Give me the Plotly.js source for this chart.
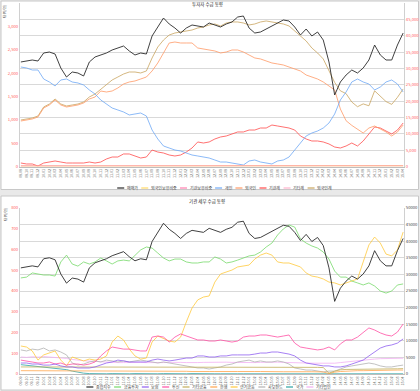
<!DOCTYPE html>
<html><head><meta charset="utf-8">
<script src="https://cdn.plot.ly/plotly-3.0.1.min.js"></script>
<style>html,body{margin:0;padding:0;background:#e9e9e9}#c{width:420px;height:391px}</style>
</head><body><div id="c"></div>
<script>
// ---------- data ----------
const months = ["09.09","09.10","09.11","09.12","10.01","10.02","10.03","10.04","10.05","10.06","10.07","10.08","10.09","10.10","10.11","10.12",
"11.01","11.02","11.03","11.04","11.05","11.06","11.07","11.08","11.09","11.10","11.11","11.12",
"12.01","12.02","12.03","12.04","12.05","12.06","12.07","12.08","12.09","12.10","12.11","12.12",
"13.01","13.02","13.03","13.04","13.05","13.06","13.07","13.08","13.09","13.10","13.11","13.12",
"14.01","14.02","14.03","14.04","14.05","14.06","14.07","14.08","14.09","14.10","14.11","14.12",
"15.01","15.02","15.03","15.04"];

const price = [31960,32260,32570,32260,34710,35010,34400,30120,27370,28900,28590,27680,31960,33490,34100,34710,35630,36240,36850,35320,34100,34710,34400,39910,42660,45410,43580,42350,40820,42350,43270,42970,42660,43880,43270,42660,43580,44190,45720,46020,42350,40820,41130,42050,42970,43880,44800,44500,42660,40210,42050,39910,41130,38680,31960,21870,25840,27980,29510,28590,30120,32570,37150,34100,32570,32570,37150,40820];

// top panel series (left axis)
const topForeignHold = [6,6,7,7,8,8,7,7,6,6,7,7,8,8,8,9,9,10,10,9,9,9,10,11,12,12,11,11,10,10,11,11,12,12,11,11,12,12,12,11,11,10,10,10,11,11,12,12,11,10,9,9,8,8,7,6,6,7,7,8,8,9,9,9,8,8,9,10];
const topInstHold = [14,14,15,15,16,16,15,15,14,14,14,15,15,16,16,17,17,18,18,17,17,17,18,19,20,20,19,19,18,18,19,19,20,20,19,19,20,20,20,19,19,18,18,18,19,19,20,20,19,18,17,17,16,16,15,14,14,15,15,16,16,17,17,17,16,16,17,18];
const topIndividual = [2130,2109,2066,2066,1873,1809,1724,1852,1873,1809,1788,1745,1638,1552,1424,1338,1252,1210,1167,1103,1124,1145,1081,781,589,439,396,353,332,289,246,225,203,182,139,96,96,75,54,32,118,139,96,75,54,118,139,203,353,525,653,717,760,824,931,1124,1424,1595,1809,1873,1809,1766,1638,1702,1809,1852,1766,1595];
const topForeign = [974,996,1017,1060,1252,1317,1424,1317,1274,1295,1317,1360,1445,1488,1616,1595,1616,1681,1766,1809,1831,1873,1916,2045,2216,2430,2644,2665,2644,2644,2644,2537,2516,2494,2473,2430,2451,2494,2494,2451,2387,2323,2302,2259,2216,2195,2173,2130,2088,2045,1959,1916,1873,1809,1724,1638,1230,980,880,800,717,824,867,803,739,653,739,888];
const topInstitution = [75,54,54,11,75,96,118,96,75,75,75,75,96,75,96,161,203,203,268,268,225,182,203,353,310,289,246,225,246,310,396,525,503,525,589,632,653,696,739,739,781,781,824,824,888,867,846,824,781,653,589,546,546,525,482,417,396,439,503,439,546,696,846,824,760,696,781,931];
const topOther = [9,8,8,9,10,10,9,9,8,8,9,9,10,10,11,11,12,12,11,11,10,10,11,12,13,13,12,12,11,11,12,12,13,13,12,12,13,13,13,12,12,11,11,11,12,12,13,13,12,11,10,10,9,9,8,8,8,9,9,10,10,11,11,11,10,10,11,12];
const topForeignSum = [996,1017,1038,1081,1274,1338,1445,1338,1295,1317,1338,1381,1488,1552,1659,1745,1852,1916,1980,2023,2023,2002,2045,2323,2558,2708,2815,2858,2880,2901,2922,2965,2987,3030,3051,3008,3072,3094,3094,3072,3030,3051,3094,3115,3094,3072,3051,3008,2901,2794,2687,2537,2430,2302,2050,1800,1620,1560,1380,1280,1340,1300,1620,1500,1390,1330,1480,1660];

// bottom panel series (left axis)
const finInvest = [463,467,487,482,477,477,472,540,573,530,520,540,530,540,559,545,530,545,549,545,573,598,612,607,583,559,545,554,554,540,535,535,540,540,564,554,535,540,549,559,569,573,588,612,631,670,699,718,708,651,631,617,607,588,554,496,467,467,448,439,429,439,424,400,390,400,429,434];
const insurance = [53,53,48,48,43,43,48,39,34,34,29,29,29,34,43,53,58,67,63,58,58,58,58,67,72,67,63,67,72,77,77,87,87,82,82,87,87,92,92,92,92,96,101,101,106,106,101,96,87,67,53,48,43,39,39,34,34,39,48,58,67,87,106,125,135,140,149,169];
const trust = [67,63,58,53,53,58,48,53,43,48,48,43,48,58,87,111,130,125,120,120,116,111,111,178,183,178,154,178,193,183,173,164,164,159,159,164,159,154,159,178,183,183,188,188,183,178,183,188,149,130,125,120,116,120,130,116,145,164,164,178,202,222,212,198,188,183,202,241];
const otherFin = [34,34,35,34,34,33,34,34,33,33,34,34,33,33,34,34,33,33,33,34,34,33,33,33,34,34,33,33,33,33,34,34,33,33,33,32,33,33,32,32,33,33,32,32,33,33,32,32,32,32,33,32,32,31,4,14,20,22,22,23,23,24,24,24,25,25,25,26];
const bank = [16,16,15,16,15,15,16,15,15,14,14,15,14,14,15,14,14,14,13,14,14,13,13,14,13,13,14,13,13,13,12,13,13,12,12,13,12,12,12,13,12,12,12,11,12,12,11,11,12,11,11,11,10,10,2,9,12,14,15,16,16,17,17,18,18,18,19,19];
const pension = [135,130,111,67,92,101,111,67,39,82,72,63,72,67,72,87,154,183,164,120,87,72,77,154,183,169,159,154,178,251,318,357,371,376,443,482,492,501,516,520,525,554,573,583,573,540,535,535,525,516,487,472,467,458,443,439,429,439,448,458,540,622,660,631,578,569,598,684];
const privateFund = [116,111,120,116,125,111,116,106,92,53,43,48,58,63,58,67,63,58,63,58,63,67,63,58,53,58,53,48,43,39,34,29,29,24,29,34,43,48,58,63,67,58,63,58,58,63,58,48,29,24,19,19,14,10,14,14,24,34,39,43,48,53,48,39,34,34,39,43];
const nation = [45,42,40,38,36,33,30,26,21,14,8,4,2,1,1,1,2,1,1,1,2,1,1,1,1,2,1,1,1,1,2,1,1,1,1,1,2,1,1,1,1,1,2,1,1,1,1,2,1,1,1,1,1,2,1,1,1,1,2,1,1,1,1,1,2,1,1,1];
const otherCorp = [82,80,83,81,84,82,80,78,75,70,66,64,62,60,58,57,56,55,55,56,57,56,55,54,54,55,56,57,56,55,54,55,56,57,58,58,57,56,55,54,54,55,56,57,58,57,56,56,55,54,53,52,52,51,50,52,55,58,62,66,68,70,72,74,75,76,78,76];

const topTitle = "투자자 수급 동향";
const bottomTitle = "기관 세부 수급 동향";
const unitLabel = "단위(억)";

const topSeries = [
  {name:"매매가", y:price, color:"#2b2b2b", axis:"y2"},
  {name:"외국인보유비중", y:topForeignHold, color:"#ffd966", axis:"y"},
  {name:"기관보유비중", y:topInstHold, color:"#ff7fb0", axis:"y"},
  {name:"개인", y:topIndividual, color:"#6fa8f5", axis:"y"},
  {name:"외국인", y:topForeign, color:"#ff9966", axis:"y"},
  {name:"기관계", y:topInstitution, color:"#ff4c4c", axis:"y"},
  {name:"기타계", y:topOther, color:"#ffb3cc", axis:"y"},
  {name:"외국인계", y:topForeignSum, color:"#c9a55f", axis:"y"}
];
const bottomSeries = [
  {name:"종합지수", y:price, color:"#2b2b2b", axis:"y4"},
  {name:"금융투자", y:finInvest, color:"#77d96b", axis:"y3"},
  {name:"보험", y:insurance, color:"#8f5ff0", axis:"y3"},
  {name:"투신", y:trust, color:"#ff4fa3", axis:"y3"},
  {name:"기타금융", y:otherFin, color:"#c2ae5a", axis:"y3"},
  {name:"은행", y:bank, color:"#ffa64d", axis:"y3"},
  {name:"연기금등", y:pension, color:"#ffc93c", axis:"y3"},
  {name:"사모펀드", y:privateFund, color:"#b3b3b3", axis:"y3"},
  {name:"국가", y:nation, color:"#2fa3a3", axis:"y3"},
  {name:"기타법인", y:otherCorp, color:"#f2b0f2", axis:"y3"}
];

// ---------- geometry helpers ----------
const W=420,H=391, ML=20, MR=16, MT=3, MB=17;
const PW=W-ML-MR, PH=H-MT-MB;
const px2x = p => (p-ML)/PW;
const px2y = p => (H-MB-p)/PH;
const FONT = "Noto Sans CJK KR, Noto Sans, sans-serif";

const traces=[];
topSeries.slice().reverse().forEach(s=>{
  traces.push({type:"scatter",mode:"lines",x:months,y:s.y,name:s.name,xaxis:"x",yaxis:s.axis,
    line:{color:s.color,width:s.name==="매매가"?0.9:0.8},showlegend:false,hoverinfo:"skip"});
});
bottomSeries.slice().reverse().forEach(s=>{
  traces.push({type:"scatter",mode:"lines",x:months,y:s.y,name:s.name,xaxis:"x2",yaxis:s.axis,
    line:{color:s.color,width:s.name==="종합지수"?0.9:0.8},showlegend:false,hoverinfo:"skip"});
});

const shapes=[
  {type:"rect",xref:"paper",yref:"paper",x0:px2x(1),x1:px2x(418.5),y0:px2y(189.5),y1:px2y(1),
   fillcolor:"#ffffff",line:{color:"#c8c8c8",width:1},layer:"below"},
  {type:"rect",xref:"paper",yref:"paper",x0:px2x(1),x1:px2x(418.5),y0:px2y(390),y1:px2y(196),
   fillcolor:"#ffffff",line:{color:"#c8c8c8",width:1},layer:"below"}
];
const annotations=[
  {xref:"paper",yref:"paper",x:px2x(207),y:px2y(5),text:topTitle,showarrow:false,font:{size:4.5,color:"#222",family:FONT},xanchor:"center",yanchor:"middle"},
  {xref:"paper",yref:"paper",x:px2x(207),y:px2y(201),text:bottomTitle,showarrow:false,font:{size:4.5,color:"#222",family:FONT},xanchor:"center",yanchor:"middle"},
  {xref:"paper",yref:"paper",x:px2x(5),y:px2y(12),text:unitLabel,textangle:-90,showarrow:false,font:{size:3.8,color:"#333",family:FONT},xanchor:"center",yanchor:"middle"},
  {xref:"paper",yref:"paper",x:px2x(5),y:px2y(215),text:unitLabel,textangle:-90,showarrow:false,font:{size:3.8,color:"#333",family:FONT},xanchor:"center",yanchor:"middle"}
];

// custom compact legends
const cv=document.createElement("canvas").getContext("2d");
function buildLegend(series, centerPx, yPx){
  const fs=4, glyph=7, g1=1.5, g2=4.5;
  cv.font=fs+"px 'Noto Sans CJK KR'";
  const widths=series.map(s=>cv.measureText(s.name).width||s.name.length*fs);
  const total=widths.reduce((a,w)=>a+glyph+g1+w+g2,0)-g2;
  let x=centerPx-total/2;
  series.forEach((s,i)=>{
    shapes.push({type:"line",xref:"paper",yref:"paper",x0:px2x(x),x1:px2x(x+glyph),y0:px2y(yPx),y1:px2y(yPx),
      line:{color:s.color,width:1.2}});
    annotations.push({xref:"paper",yref:"paper",x:px2x(x+glyph+g1),y:px2y(yPx),text:s.name,showarrow:false,
      xanchor:"left",yanchor:"middle",borderpad:0,font:{size:fs,color:"#444",family:FONT}});
    x+=glyph+g1+widths[i]+g2;
  });
}
buildLegend(topSeries,224,188);
buildLegend(bottomSeries,208,387);

const xBase={type:"category",range:[-0.15,67.15],tickangle:-90,tickmode:"linear",dtick:1,
  tickfont:{size:3.6,color:"#555",family:FONT},showline:true,linecolor:"#bdbdbd",linewidth:1,
  showgrid:false,zeroline:false,ticks:"",fixedrange:true};
const yLeftBase={showgrid:false,zeroline:false,showline:true,linecolor:"#d0d0d0",ticks:"",
  tickfont:{size:4.2,color:"#ff5a5a",family:FONT}};
const yRightBase={overlaying:null,side:"right",showgrid:true,gridcolor:"#d9d9d9",gridwidth:1,zeroline:false,
  showline:true,linecolor:"#d0d0d0",ticks:""};

const layout={
  width:W,height:H,margin:{l:ML,r:MR,t:MT,b:MB,pad:0},
  paper_bgcolor:"#e9e9e9",plot_bgcolor:"rgba(0,0,0,0)",
  font:{family:FONT,size:4.5,color:"#333"},
  showlegend:false,
  xaxis:Object.assign({},xBase,{domain:[0,1],anchor:"y"}),
  xaxis2:Object.assign({},xBase,{domain:[0,1],anchor:"y3"}),
  yaxis:Object.assign({},yLeftBase,{domain:[px2y(166.5),1],anchor:"x",range:[0,3500],dtick:500,tickformat:","}),
  yaxis2:Object.assign({},yRightBase,{overlaying:"y",anchor:"x",range:[0,50000],dtick:5000,tickformat:",",
    tickfont:{size:4.2,color:"#ff5a5a",family:FONT}}),
  yaxis3:Object.assign({},yLeftBase,{domain:[0,px2y(208)],anchor:"x2",range:[0,800],dtick:100,tickformat:"d"}),
  yaxis4:Object.assign({},yRightBase,{overlaying:"y3",anchor:"x2",range:[0,50000],dtick:5000,tickformat:"d",
    tickfont:{size:4.2,color:"#444",family:FONT}}),
  shapes:shapes,annotations:annotations
};
Plotly.newPlot("c",traces,layout,{staticPlot:true,displayModeBar:false});
</script></body></html>
